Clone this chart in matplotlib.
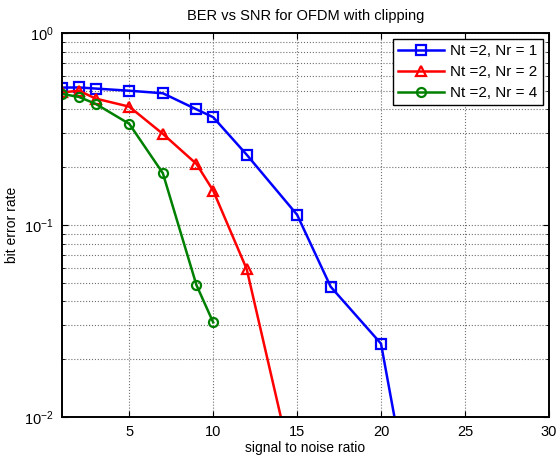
import matplotlib
matplotlib.use("Agg")
import matplotlib.pyplot as plt
from matplotlib.ticker import LogLocator, NullFormatter

plt.rcParams["font.family"] = ["Liberation Sans", "DejaVu Sans"]
plt.rcParams["mathtext.fontset"] = "custom"
plt.rcParams["mathtext.rm"] = "Liberation Sans"
plt.rcParams["mathtext.it"] = "Liberation Sans"

# BER (SNR in dB)
snr_nr1 = [1, 2, 3, 5, 7, 9, 10, 12, 15, 17, 20, 25]
ber_nr1 = [0.519, 0.52, 0.513, 0.50, 0.485, 0.40, 0.364, 0.232, 0.113, 0.0477, 0.0241, 0.0001]
snr_nr2 = [1, 2, 3, 5, 7, 9, 10, 12, 15]
ber_nr2 = [0.49, 0.50, 0.455, 0.413, 0.298, 0.208, 0.151, 0.0588, 0.0043]
snr_nr4 = [1, 2, 3, 5, 7, 9, 10]
ber_nr4 = [0.481, 0.464, 0.427, 0.336, 0.186, 0.0487, 0.0311]

fig = plt.figure(figsize=(5.6, 4.57), dpi=100)
ax = fig.add_axes([0.111, 0.0875, 0.869, 0.8405])

ax.semilogy(snr_nr1, ber_nr1, "-s", color="#0000ff", lw=1.8, ms=6.5, mfc="none", mew=1.6,
            label="Nt =2, Nr = 1")
ax.semilogy(snr_nr2, ber_nr2, "-^", color="#ff0000", lw=1.8, ms=7.5, mfc="none", mew=1.6,
            label="Nt =2, Nr = 2")
ax.semilogy(snr_nr4, ber_nr4, "-o", color="#008000", lw=1.8, ms=6.5, mfc="none", mew=1.6,
            label="Nt =2, Nr = 4")

ax.set_xlim(1, 30)
ax.set_ylim(1e-2, 1)
ax.set_xticks([5, 10, 15, 20, 25, 30])
ax.yaxis.set_major_locator(LogLocator(base=10, numticks=10))
ax.yaxis.set_minor_locator(LogLocator(base=10, subs=range(2, 10), numticks=20))
ax.yaxis.set_minor_formatter(NullFormatter())

ax.grid(True, which="major", color="#707070", ls=":", lw=0.8)
ax.grid(True, which="minor", axis="y", color="#707070", ls=":", lw=0.8)
ax.tick_params(which="both", direction="in", top=True, right=True, labelsize=10.5, pad=6)
ax.tick_params(which="major", length=4)
ax.tick_params(which="minor", length=2.5)
for s in ax.spines.values():
    s.set_linewidth(1.4)

ax.set_title("BER vs SNR for OFDM with clipping", fontsize=10.5, pad=9)
ax.set_xlabel("signal to noise ratio", fontsize=10, labelpad=1)
ax.set_ylabel("bit error rate", fontsize=10, labelpad=4)

leg = ax.legend(loc="upper right", fontsize=11, fancybox=False, framealpha=1,
                edgecolor="black", borderaxespad=0.4, handlelength=3.0,
                borderpad=0.35, labelspacing=0.45, handletextpad=0.4)
leg.get_frame().set_linewidth(1.0)

fig.savefig("out.png", dpi=100, facecolor="white")
